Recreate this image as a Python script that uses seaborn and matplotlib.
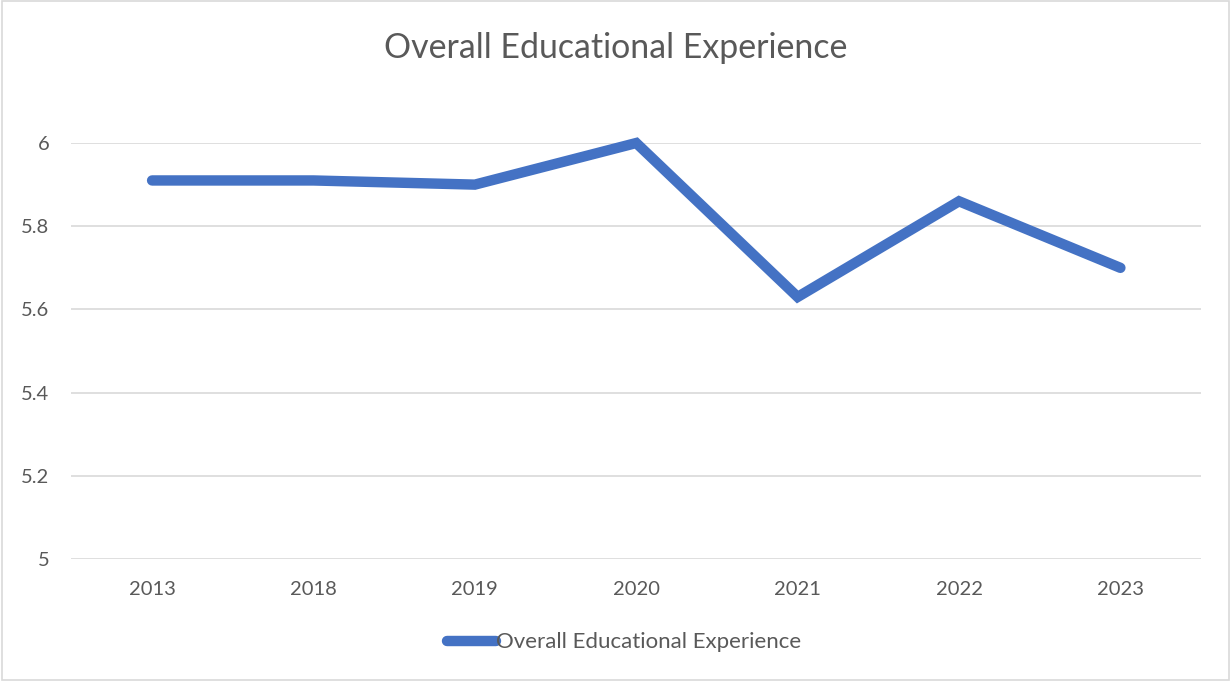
import matplotlib
matplotlib.use("Agg")
from matplotlib import pyplot as plt
import pandas as pd
import seaborn as sns

annees = ["2013", "2018", "2019", "2020", "2021", "2022", "2023"]
valeurs = [5.91, 5.91, 5.90, 6.00, 5.63, 5.86, 5.70]
serie = "Overall Educational Experience"

df = pd.DataFrame({"annee": annees, "valeur": valeurs})

sns.set_style("white")
plt.rcParams['font.family'] = ['Lato', 'DejaVu Sans']

fig = plt.figure(figsize=(12.31, 6.81), dpi=100)
ax = fig.add_axes([0.058, 0.179, 0.9177, 0.611])

sns.lineplot(data=df, x="annee", y="valeur", ax=ax, color="#4472C4",
             linewidth=7.5, solid_capstyle="round", solid_joinstyle="miter",
             label=serie, sort=False, clip_on=False)

ax.set_xlim(-0.5, len(annees) - 0.5)
ax.set_ylim(5, 6)
ax.set_yticks([5, 5.2, 5.4, 5.6, 5.8, 6])
ax.set_yticklabels(["5", "5.2", "5.4", "5.6", "5.8", "6"])
ax.grid(axis="y", color="#d9d9d9", linewidth=1.2)
ax.set_axisbelow(True)
for s in ax.spines.values():
    s.set_visible(False)
ax.tick_params(axis="both", length=0, labelsize=14.5, colors="#595959")
ax.tick_params(axis="y", pad=16)
ax.tick_params(axis="x", pad=16)
ax.set_xlabel("")
ax.set_ylabel("")

fig.text(0.5, 0.929, serie, ha="center", va="center", fontsize=24.4, color="#595959")

leg = ax.legend(loc="center", bbox_to_anchor=(0.489, -0.2), frameon=False,
                fontsize=16, handlelength=2.2, handletextpad=0.0)
for t in leg.get_texts():
    t.set_color("#595959")

# bordure grise autour du graphique
fig.patches.append(plt.Rectangle((0.002, 0.002), 0.996, 0.996, transform=fig.transFigure,
                                 fill=False, edgecolor="#d9d9d9", linewidth=1.2))

plt.savefig("out.png", dpi=100)
